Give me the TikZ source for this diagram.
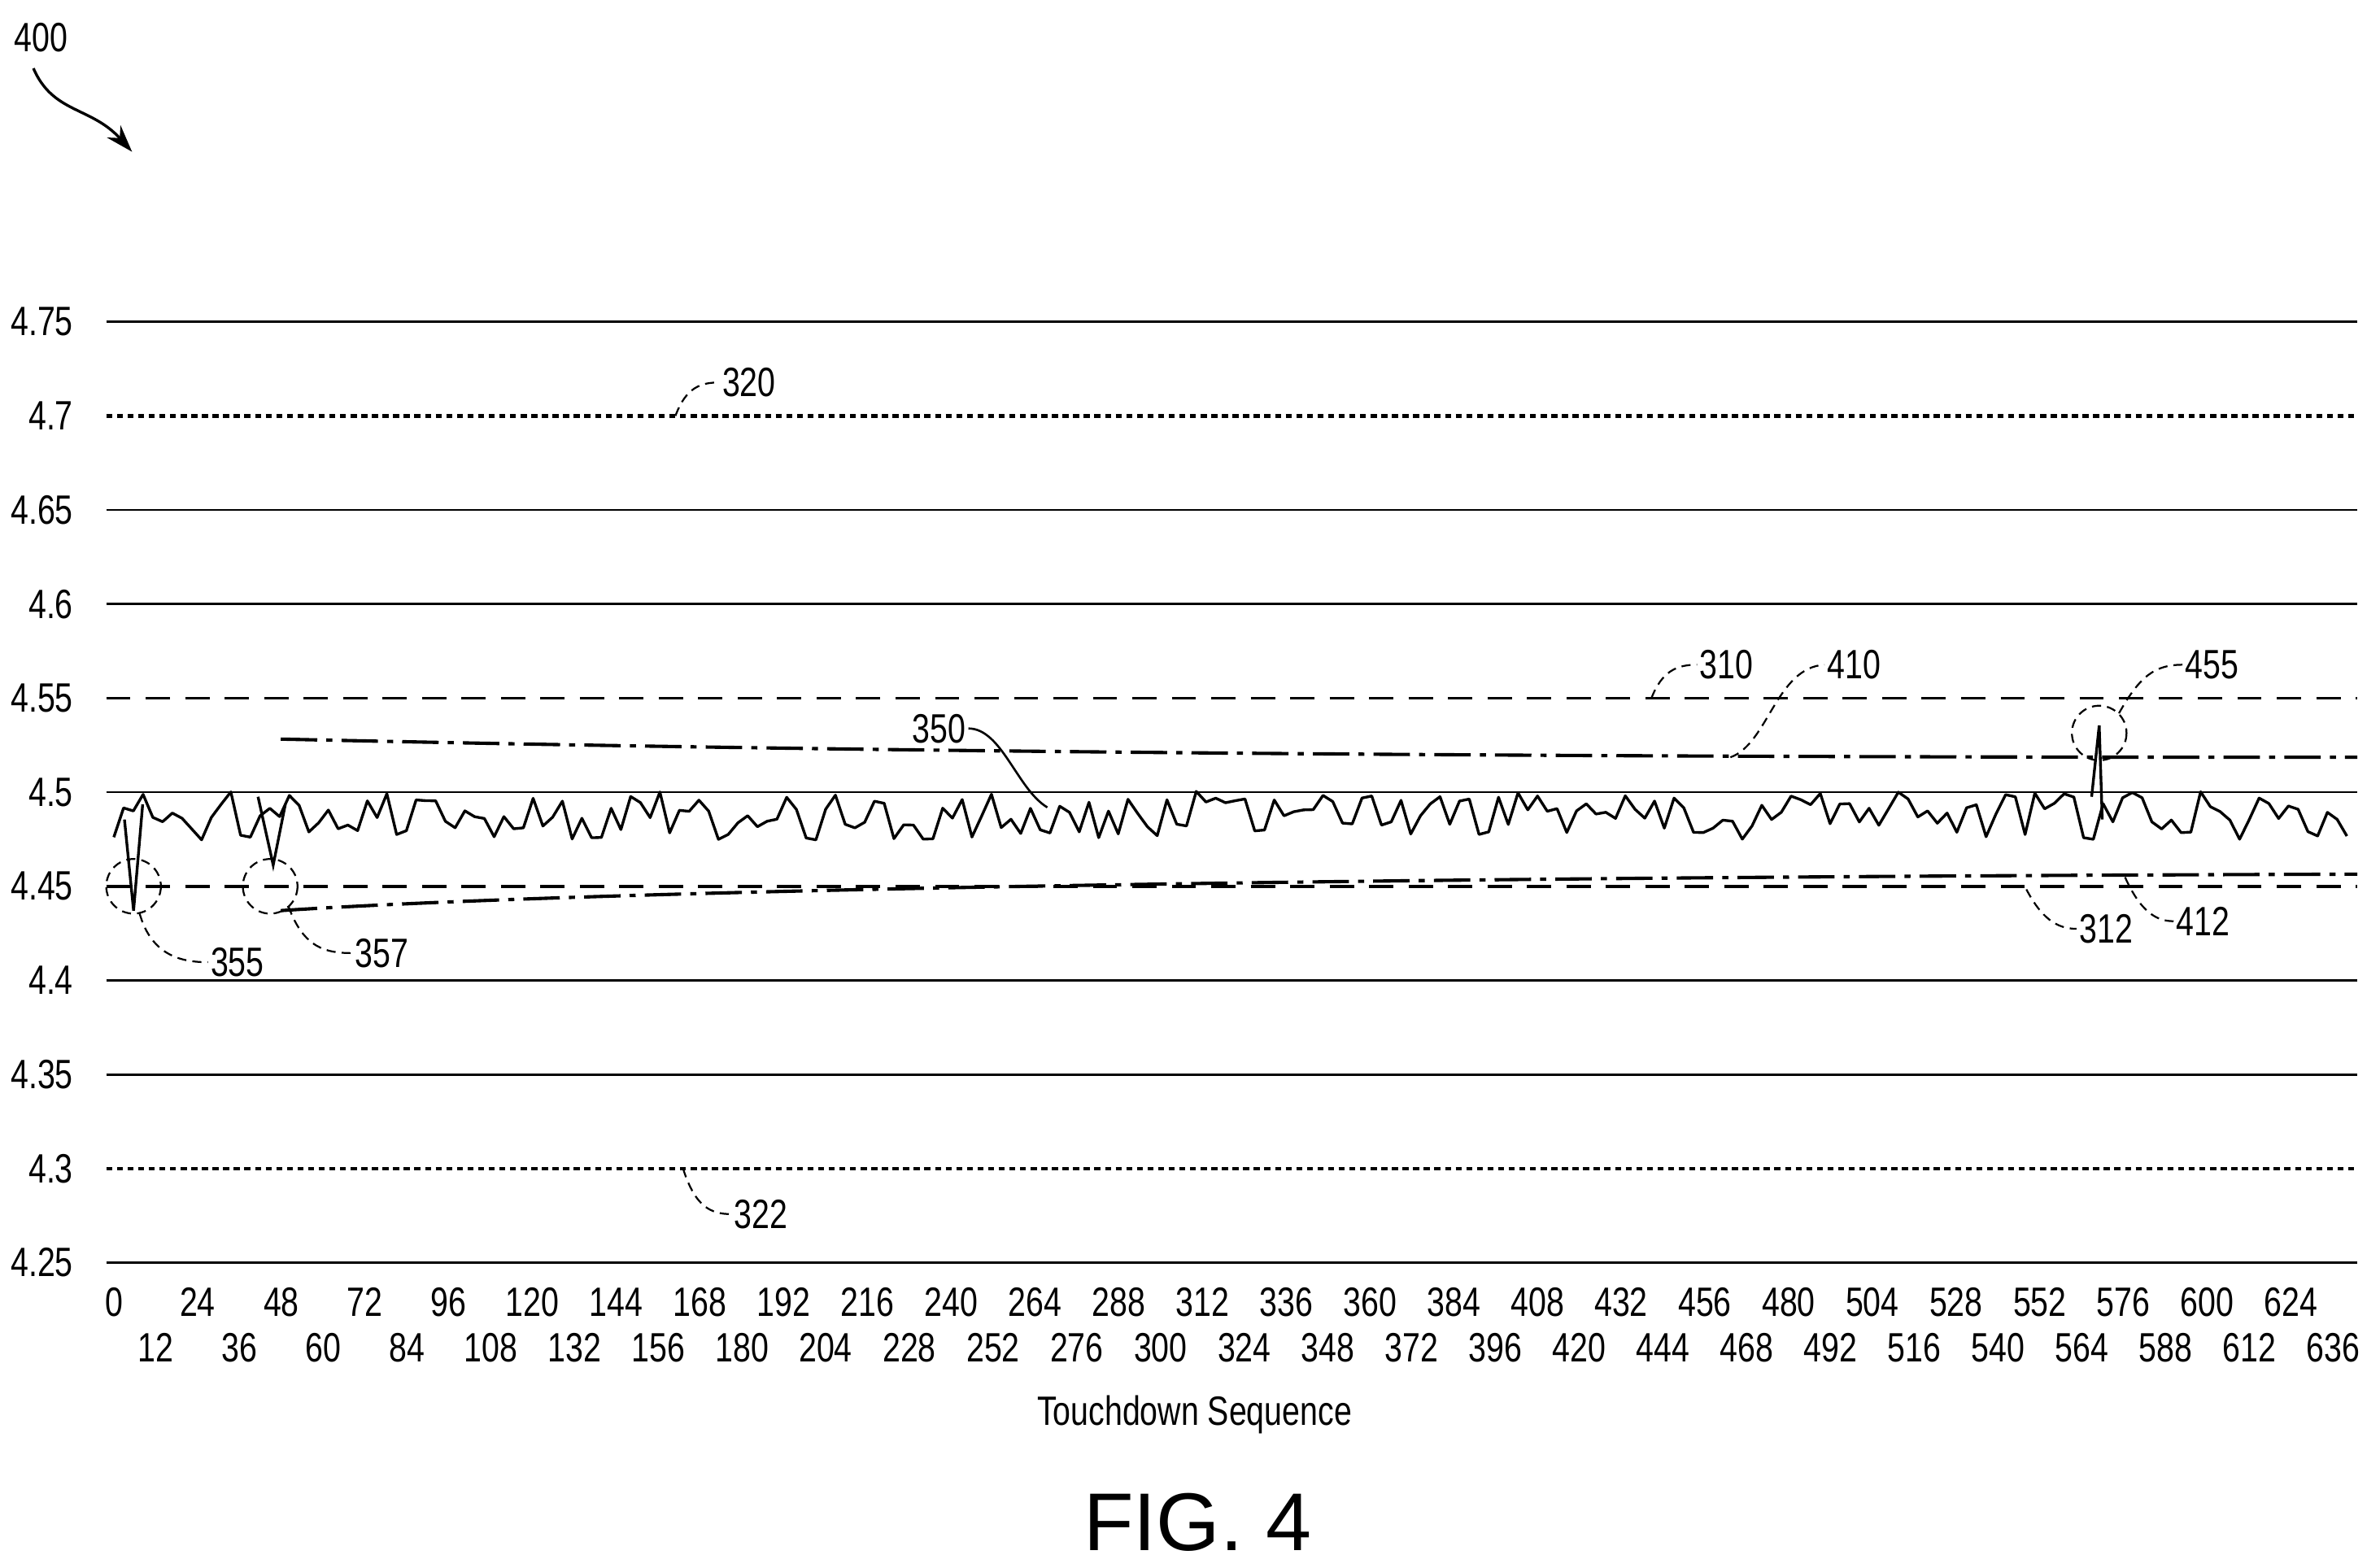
\documentclass[tikz,border=0pt]{standalone}
\usepackage{fontspec}
\setmainfont{Liberation Sans}
\usetikzlibrary{arrows.meta}
\begin{document}
\begin{tikzpicture}[x=0.5pt,y=-0.5pt,
  lbl/.style={font=\fontsize{13.5}{15}\selectfont, xscale=0.78, inner sep=1pt},
  grid/.style={line width=0.7pt},
  lead/.style={line width=0.6pt, dash pattern=on 3pt off 2pt},
  circ/.style={line width=0.6pt, dash pattern=on 3pt off 2pt},
  thr/.style={line width=1pt, dash pattern=on 8pt off 5pt},
  lim/.style={line width=1.2pt, dash pattern=on 2pt off 1.5pt},
  env/.style={line width=1.1pt, dash pattern=on 12pt off 3pt on 2pt off 3pt}]
\useasboundingbox (0,0) rectangle (1568,1033);
% grid
\foreach \y in {212,336,398,522,646,708,832}
  {\draw[grid] (70,\y) -- (1553,\y);}
\foreach \v/\y in {4.75/212,4.7/274,4.65/336,4.6/398,4.55/460,4.5/522,4.45/584,4.4/646,4.35/708,4.3/770,4.25/832}
  {\node[lbl, anchor=east] (y\y) at (50,\y) {\v};}
\draw[lim] (70,274) -- (1553,274);
\draw[lim] (70,770) -- (1553,770);
\draw[thr] (70,460) -- (1553,460);
\draw[thr] (70,584) -- (1553,584);
% x labels
\foreach \t in {0,24,...,624}
  {\node[lbl] (xt\t) at ({75+2.2987*\t},858) {\t};}
\foreach \t in {12,36,...,636}
  {\node[lbl] (xb\t) at ({75+2.2987*\t},888) {\t};}
\node[lbl] (xlab) at (787,932) {Touchdown Sequence};
\node[font=\fontsize{27}{30}\selectfont] (fig) at (789,1003) {FIG. 4};
% data
\pgfmathsetseed{4711}
\draw[line width=0.9pt, line join=round] plot[domain=0:640, samples=230, variable=\t]
  ({75+2.2987*\t},{832-1240*(0.2375+0.013*rand)});
\draw[line width=0.9pt] (82,540) -- (88,600) -- (94,530);
\draw[line width=0.9pt] (170,525) -- (180,570) -- (188,530);
\draw[line width=0.9pt] (1378,525) -- (1383,478) -- (1385,540);
% envelopes
\draw[env] (185,487) .. controls (500,494) and (900,499) .. (1553,499);
\draw[env] (185,600) .. controls (400,586) and (900,578) .. (1553,576);
% circles
\draw[circ] (88,584) circle (18);
\draw[circ] (178,584) circle (18);
\draw[circ] (1383,483) circle (18);
% labels with leaders
\node[lbl, anchor=west] (l320) at (474,252) {320};
\draw[lead] (445,274) .. controls (452,255) and (462,252) .. (l320.west);
\node[lbl, anchor=west] (l322) at (482,800) {322};
\draw[lead] (450,770) .. controls (458,795) and (468,800) .. (l322.west);
\node[lbl, anchor=west] (l310) at (1118,438) {310};
\draw[lead] (1088,460) .. controls (1095,442) and (1105,438) .. (l310.west);
\node[lbl, anchor=west] (l410) at (1202,438) {410};
\draw[lead] (1140,499) .. controls (1165,490) and (1170,440) .. (l410.west);
\node[lbl, anchor=west] (l455) at (1438,438) {455};
\draw[lead] (1396,470) .. controls (1410,445) and (1420,438) .. (l455.west);
\node[lbl, anchor=east] (l350) at (638,480) {350};
\draw[line width=0.7pt] (l350.east) .. controls (660,480) and (670,520) .. (690,532);
\node[lbl, anchor=west] (l355) at (137,634) {355};
\draw[lead] (92,602) .. controls (100,630) and (120,634) .. (l355.west);
\node[lbl, anchor=west] (l357) at (232,628) {357};
\draw[lead] (190,597) .. controls (200,625) and (215,628) .. (l357.west);
\node[lbl, anchor=west] (l312) at (1368,612) {312};
\draw[lead] (1335,586) .. controls (1345,605) and (1355,612) .. (l312.west);
\node[lbl, anchor=west] (l412) at (1432,607) {412};
\draw[lead] (1400,578) .. controls (1410,600) and (1420,607) .. (l412.west);
% 400
\node[lbl] (l400) at (27,25) {400};
\coordinate (a400) at (87,100);
\draw[line width=0.9pt, -{Stealth[length=9pt,width=6pt]}] (22,45) .. controls (35,75) and (60,70) .. (a400);
\end{tikzpicture}
\end{document}
